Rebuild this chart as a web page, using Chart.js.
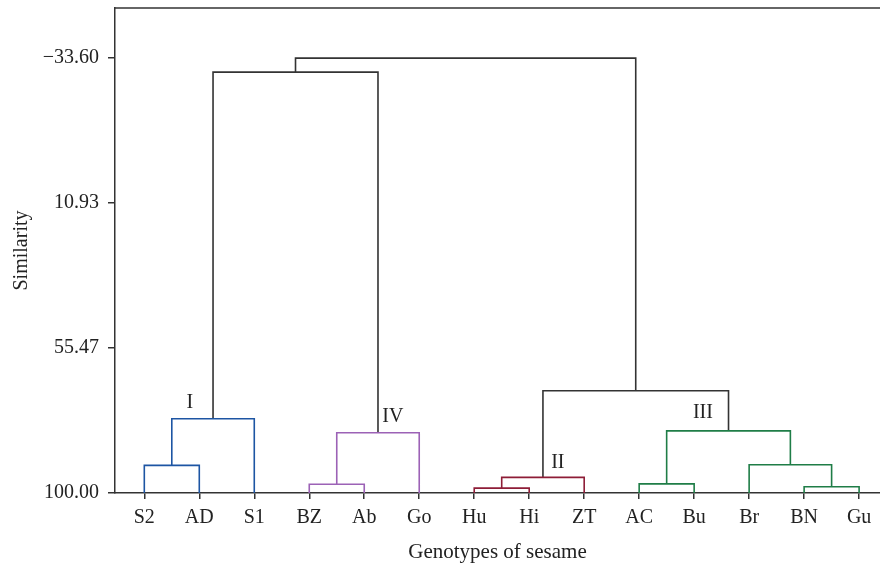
<!DOCTYPE html>
<html>
<head>
<meta charset="utf-8">
<script src="https://cdn.jsdelivr.net/npm/chart.js@4.4.1/dist/chart.umd.min.js"></script>
<style>
  body { margin: 0; background: #fff; }
  #wrap { width: 880px; height: 565px; }
</style>
</head>
<body>
<div id="wrap"><canvas id="myChart" width="880" height="565"></canvas></div>
<script>
// leaves of the dendrogram, left to right
const leaves = ["S2", "AD", "S1", "BZ", "Ab", "Go", "Hu", "Hi", "ZT", "AC", "Bu", "Br", "BN", "Gu"];

// merges: left child, right child, similarity level, colour group
// children: leaf name or merge name
const mergeNames   = ["m1", "m2", "m3", "m4", "m5", "m6", "m7", "m8", "m9", "m10", "m11", "m12", "m13"];
const mergeLeft    = ["S2", "m1", "BZ", "m3", "Hu", "m5", "AC", "BN", "Br", "m7", "m6", "m2", "m12"];
const mergeRight   = ["AD", "S1", "Ab", "Go", "Hi", "ZT", "Bu", "Gu", "m8", "m9", "m10", "m4", "m11"];
const mergeHeight  = [91.5, 77.2, 97.3, 81.5, 98.5, 95.2, 97.2, 98.1, 91.3, 80.9, 68.6, -29.3, -33.6];
const mergeGroup   = ["I", "I", "IV", "IV", "II", "II", "III", "III", "III", "III", "", "", ""];

// y-axis tick labels
const yTicks = [-33.60, 10.93, 55.47, 100.00];

// cluster labels and where they sit (leaf index, similarity)
const clusterNames = ["I", "IV", "II", "III"];
const clusterX     = [0.83, 4.52, 7.52, 10.16];
const clusterY     = [72.4, 76.7, 90.8, 75.4];

const groupColors = {
  "I": "#1d55a3",
  "IV": "#9c62b6",
  "II": "#8e1d37",
  "III": "#1f7d47",
  "": "#333333"
};

// work out node positions
let nodeX = {};
let nodeY = {};
leaves.forEach(function(name, i){ nodeX[name] = i; nodeY[name] = 100; });

const datasets = [];
for (let i = 0; i < mergeNames.length; i++) {
  let l = mergeLeft[i], r = mergeRight[i], h = mergeHeight[i];
  datasets.push({
    data: [
      {x: nodeX[l], y: nodeY[l]},
      {x: nodeX[l], y: h},
      {x: nodeX[r], y: h},
      {x: nodeX[r], y: nodeY[r]}
    ],
    borderColor: groupColors[mergeGroup[i]],
    borderWidth: 1.6,
    pointRadius: 0,
    tension: 0,
    fill: false
  });
  nodeX[mergeNames[i]] = (nodeX[l] + nodeX[r]) / 2;
  nodeY[mergeNames[i]] = h;
}

const serif = "'Liberation Serif', 'DejaVu Serif', serif";

const extras = {
  id: 'extras',
  afterDraw(chart) {
    const ctx = chart.ctx, area = chart.chartArea;
    const xs = chart.scales.x, ys = chart.scales.y;
    ctx.save();
    // top frame line
    ctx.strokeStyle = '#333';
    ctx.lineWidth = 1.5;
    ctx.beginPath();
    ctx.moveTo(area.left, area.top);
    ctx.lineTo(area.right, area.top);
    ctx.stroke();
    // cluster labels
    ctx.fillStyle = '#222';
    ctx.font = "20px " + serif;
    ctx.textAlign = 'center';
    ctx.textBaseline = 'middle';
    for (let i = 0; i < clusterNames.length; i++) {
      ctx.fillText(clusterNames[i], xs.getPixelForValue(clusterX[i]), ys.getPixelForValue(clusterY[i]));
    }
    ctx.restore();
  }
};

const config = {
  type: 'line',
  data: { datasets: datasets },
  options: {
    responsive: false,
    animation: false,
    layout: { padding: { top: 8, right: 0, left: 0, bottom: 0 } },
    plugins: {
      legend: { display: false },
      tooltip: { enabled: false }
    },
    scales: {
      x: {
        type: 'linear',
        min: -0.533,
        max: 13.38,
        afterBuildTicks: function(scale){
          scale.ticks = leaves.map(function(n, i){ return {value: i}; });
        },
        afterFit: function(scale){
          scale.height = 72;
          scale.paddingLeft = 0;
          scale.paddingRight = 0;
        },
        ticks: {
          autoSkip: false,
          maxRotation: 0,
          padding: 7,
          color: '#222',
          font: { family: serif, size: 20 },
          callback: function(v){ return leaves[v]; }
        },
        grid: { drawOnChartArea: false, drawTicks: true, tickLength: 6, color: '#333', lineWidth: 1.5 },
        border: { color: '#333', width: 1.5 },
        title: {
          display: true,
          text: 'Genotypes of sesame',
          color: '#222',
          font: { family: serif, size: 21 },
          padding: { top: 0, bottom: 0 }
        }
      },
      y: {
        type: 'linear',
        reverse: true,
        min: -49,
        max: 100,
        afterBuildTicks: function(scale){
          scale.ticks = yTicks.map(function(v){ return {value: v}; });
        },
        afterFit: function(scale){
          scale.width = 115;
          scale.paddingTop = 0;
          scale.paddingBottom = 0;
        },
        ticks: {
          padding: 9,
          color: '#222',
          font: { family: serif, size: 20 },
          callback: function(v){ return (v < 0 ? '\u2212' : '') + Math.abs(v).toFixed(2); }
        },
        grid: { drawOnChartArea: false, drawTicks: true, tickLength: 7, color: '#333', lineWidth: 1.5 },
        border: { color: '#333', width: 1.5 },
        title: {
          display: true,
          text: 'Similarity',
          color: '#222',
          font: { family: serif, size: 20 },
          padding: { top: 10, bottom: 0 }
        }
      }
    }
  },
  plugins: [extras]
};

const myChart = new Chart(document.getElementById('myChart'), config);
</script>
</body>
</html>
